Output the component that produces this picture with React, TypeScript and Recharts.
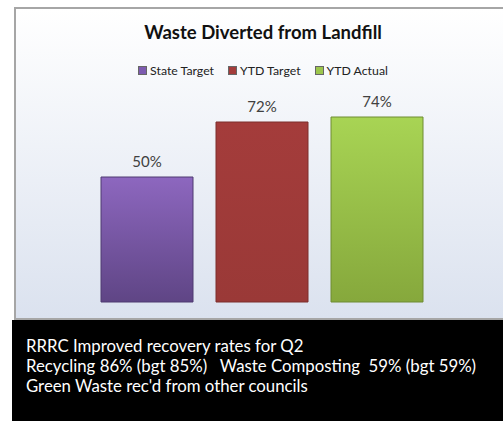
import { BarChart, Bar, XAxis, YAxis, LabelList } from "recharts";

const categories = ["Waste Diverted"];
const stateTarget = [50];
const ytdTarget = [72];
const ytdActual = [74];
const seriesNames = ["State Target", "YTD Target", "YTD Actual"];
const seriesColors = ["#7d5bb0", "#a33c3b", "#9cc64c"];
const notes = [
  "RRRC Improved recovery rates for Q2",
  "Recycling 86% (bgt 85%)   Waste Composting  59% (bgt 59%)",
  "Green Waste rec'd from other councils",
];

const data = categories.map((c, i) => ({
  name: c,
  state: stateTarget[i],
  ytdT: ytdTarget[i],
  ytdA: ytdActual[i],
}));

const font = "Lato, 'Open Sans', sans-serif";

export default function App() {
  return (
    <div style={{ position: "absolute", left: 0, top: 0, width: 503, height: 421, overflow: "hidden", background: "#fff", fontFamily: font }}>
      <div
        style={{
          position: "absolute",
          left: 14,
          top: 7,
          width: 500,
          height: 313,
          border: "2px solid #a6a6a6",
          boxSizing: "border-box",
          background: "linear-gradient(#ffffff, #dbe2ef)",
        }}
      >
        <div style={{ position: "absolute", left: 0, top: 12, width: 494, textAlign: "center", fontSize: 18.5, fontWeight: 700, color: "#111" }}>
          Waste Diverted from Landfill
        </div>
        <div style={{ position: "absolute", left: 0, top: 54, width: 494, display: "flex", justifyContent: "center", gap: 14, fontSize: 12.3, color: "#222" }}>
          {seriesNames.map((n, i) => (
            <div key={n} style={{ display: "flex", alignItems: "center" }}>
              <span style={{ display: "inline-block", width: 7, height: 7, background: seriesColors[i], border: "1px solid #666", marginRight: 3 }} />
              {n}
            </div>
          ))}
        </div>
        <BarChart
          width={492}
          height={309}
          data={data}
          margin={{ top: 93, right: 82, bottom: 16, left: 82 }}
          barGap={23}
          barCategoryGap={0}
        >
          <defs>
            <linearGradient id="gPurple" x1="0" y1="0" x2="0" y2="1">
              <stop offset="0" stopColor="#8d67bf" />
              <stop offset="1" stopColor="#5f4585" />
            </linearGradient>
            <linearGradient id="gRed" x1="0" y1="0" x2="0" y2="1">
              <stop offset="0" stopColor="#a43c3b" />
              <stop offset="1" stopColor="#9a3937" />
            </linearGradient>
            <linearGradient id="gGreen" x1="0" y1="0" x2="0" y2="1">
              <stop offset="0" stopColor="#a8d454" />
              <stop offset="1" stopColor="#86a83c" />
            </linearGradient>
          </defs>
          <XAxis dataKey="name" hide />
          <YAxis hide domain={[0, 80]} />
          <Bar dataKey="state" name={seriesNames[0]} fill="url(#gPurple)" stroke="#4f3a70" strokeWidth={1} barSize={92} isAnimationActive={false}>
            <LabelList dataKey="state" position="top" offset={10} formatter={(v) => `${v}%`} style={{ fill: "#404040", fontSize: 15, fontFamily: font }} />
          </Bar>
          <Bar dataKey="ytdT" name={seriesNames[1]} fill="url(#gRed)" stroke="#7d2e2c" strokeWidth={1} barSize={92} isAnimationActive={false}>
            <LabelList dataKey="ytdT" position="top" offset={10} formatter={(v) => `${v}%`} style={{ fill: "#404040", fontSize: 15, fontFamily: font }} />
          </Bar>
          <Bar dataKey="ytdA" name={seriesNames[2]} fill="url(#gGreen)" stroke="#6f8c32" strokeWidth={1} barSize={92} isAnimationActive={false}>
            <LabelList dataKey="ytdA" position="top" offset={10} formatter={(v) => `${v}%`} style={{ fill: "#404040", fontSize: 15, fontFamily: font }} />
          </Bar>
        </BarChart>
      </div>
      <div
        style={{
          position: "absolute",
          left: 12,
          top: 320,
          width: 491,
          height: 101,
          background: "#000",
          color: "#fff",
          fontSize: 16.8,
          lineHeight: "19.8px",
          padding: "16px 0 0 14px",
          boxSizing: "border-box",
          whiteSpace: "pre",
        }}
      >
        {notes.map((n) => (
          <div key={n}>{n}</div>
        ))}
      </div>
    </div>
  );
}
